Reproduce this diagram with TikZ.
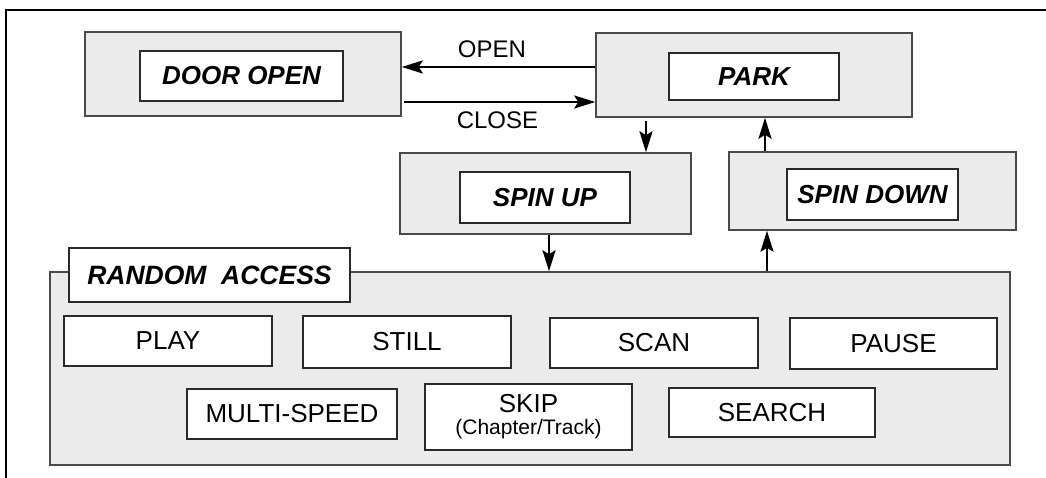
\documentclass[tikz,border=0pt]{standalone}
\usepackage{fontspec}
\setmainfont{Liberation Sans}
\usetikzlibrary{arrows.meta}
\definecolor{boxfill}{HTML}{EBEBEB}
\definecolor{boxline}{HTML}{4A4A4A}
\definecolor{inline}{HTML}{2A2A2A}
\tikzset{
  outerbox/.style={draw=boxline, fill=boxfill, line width=1.5pt, rectangle, inner sep=0pt},
  innerbox/.style={draw=inline, fill=white, line width=1.3pt, rectangle, inner sep=0pt,
    font=\fontsize{26}{26}\selectfont\bfseries\itshape},
  optbox/.style={draw=inline, fill=white, line width=1.3pt, rectangle, inner sep=0pt,
    font=\fontsize{26}{26}\selectfont},
  arr/.style={line width=2.4pt, -{Stealth[length=21pt,width=13pt,inset=4pt]}},
  lbl/.style={font=\fontsize{24}{24}\selectfont, inner sep=0pt},
  frame/.style={line width=2.6pt, black}
}
\begin{document}
\begin{tikzpicture}[x=1pt,y=-1pt]
\useasboundingbox (0,0) rectangle (1046,478);
% outer frame
\draw[frame] (6,478) -- (6,10) -- (1046,10);

% state boxes
\node[outerbox, minimum width=316pt, minimum height=84pt] (door) at (243,74) {};
\node[innerbox, minimum width=203pt, minimum height=50pt] (doorin) at (241.5,76) {DOOR OPEN};

\node[outerbox, minimum width=316pt, minimum height=84pt] (park) at (754,75) {};
\node[innerbox, minimum width=170pt, minimum height=47pt] (parkin) at (754,76.5) {PARK};

\node[outerbox, minimum width=291pt, minimum height=81pt] (spinup) at (545.5,193.5) {};
\node[innerbox, minimum width=170pt, minimum height=51pt] (spinupin) at (545,197.5) {SPIN UP};

\node[outerbox, minimum width=287pt, minimum height=78pt] (spindown) at (872.5,191) {};
\node[innerbox, minimum width=171pt, minimum height=51pt] (spindownin) at (872.5,194.5) {SPIN DOWN};

% random access
\node[outerbox, minimum width=960pt, minimum height=193pt] (ra) at (530,368.5) {};
\node[innerbox, minimum width=281pt, minimum height=54pt, font=\fontsize{26.5}{26.5}\selectfont\bfseries\itshape] (ralabel) at (209.5,275) {RANDOM\ \ ACCESS};

\node[optbox, minimum width=208pt, minimum height=50pt] (play) at (168,341) {PLAY};
\node[optbox, minimum width=208pt, minimum height=52pt] (still) at (407,342) {STILL};
\node[optbox, minimum width=208pt, minimum height=50pt] (scan) at (654,343) {SCAN};
\node[optbox, minimum width=207pt, minimum height=51pt] (pause) at (893.5,343.5) {PAUSE};
\node[optbox, minimum width=210pt, minimum height=50pt] (multi) at (292,414) {MULTI-SPEED};
\node[optbox, minimum width=207pt, minimum height=66pt, align=center] (skip) at (528.5,417)
  {SKIP\\[-4pt]{\fontsize{21}{21}\selectfont (Chapter/Track)}};
\node[optbox, minimum width=206pt, minimum height=49pt] (search) at (772,412.5) {SEARCH};

% helper coordinates for connector levels
\coordinate (yo) at (0,67);
\coordinate (yc) at (0,102);
\coordinate (xa) at (646,0);
\coordinate (xb) at (765,0);
\coordinate (xc) at (549,0);
\coordinate (xd) at (767,0);

% connectors
\draw[arr] (park.west |- yo) -- (door.east |- yo);
\draw[arr, shorten <=2pt] (door.east |- yc) -- (park.west |- yc);
\draw[arr, shorten <=3pt] (park.south -| xa) -- (spinup.north -| xa);
\draw[arr] (spindown.north -| xb) -- (park.south -| xb);
\draw[arr] (spinup.south -| xc) -- (ra.north -| xc);
\draw[arr] (ra.north -| xd) -- (spindown.south -| xd);

% labels
\node[lbl] (openlbl) at (492,49) {OPEN};
\node[lbl] (closelbl) at (497.5,120) {CLOSE};
\end{tikzpicture}
\end{document}
